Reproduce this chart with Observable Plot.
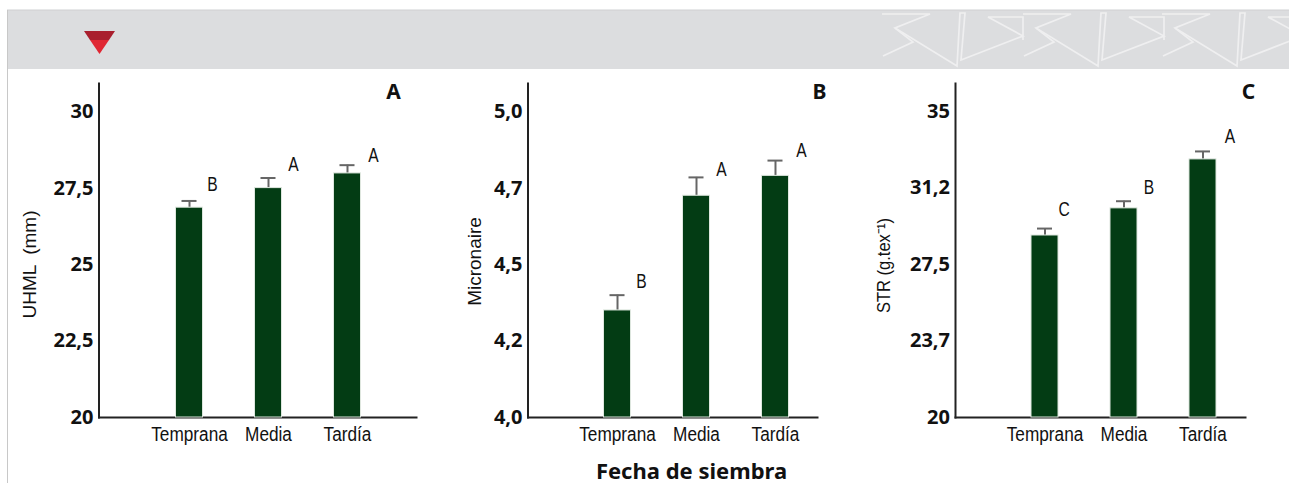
<!DOCTYPE html>
<html lang="es">
<head>
<meta charset="utf-8">
<script src="https://cdn.jsdelivr.net/npm/d3@7"></script>
<script src="https://cdn.jsdelivr.net/npm/@observablehq/plot@0.6"></script>
<style>
html,body{margin:0;padding:0;background:#fff;width:1289px;height:483px;overflow:hidden}
#page{position:relative;width:1289px;height:483px}
#page>*{position:absolute;top:0}
#band{left:0;top:0}
</style>
</head>
<body>
<div id="page">
<svg id="band" width="1289" height="483" viewBox="0 0 1289 483">
  <rect x="7" y="10" width="1282" height="59" fill="#dcdddf"/>
  <line x1="7" y1="10" x2="1289" y2="10" stroke="#cfd0d2"/>
  <line x1="7.5" y1="10" x2="7.5" y2="483" stroke="#c8c8c8"/>
  <polygon points="84,31 115,31 109,40 90,40" fill="#a91f2e"/>
  <polygon points="90,40 109,40 99.5,54" fill="#e02733"/>
  <defs>
    <g id="mot" fill="none" stroke="#efeff0" stroke-width="1.7">
      <polyline points="882,14 930,14 895,28 957,66 960,13 965,13 961,60 1023,36 988,17 1023,17 1023,40"/>
      <polyline points="895,28 913,42 883,56"/>
    </g>
  </defs>
  <use href="#mot"/><use href="#mot" x="141"/><use href="#mot" x="280"/><use href="#mot" x="421"/>
</svg>
</div>
<script>
const categories = ["Temprana", "Media", "Tardía"];

const uhmlValues = [26.86, 27.5, 27.98];
const uhmlErrors = [27.08, 27.83, 28.25];
const uhmlLetters = ["B", "A", "A"];
const uhmlLetterY = [27.61, 28.27, 28.56];
const uhmlTicks = [20, 22.5, 25, 27.5, 30];
const uhmlLabels = ["20", "22,5", "25", "27,5", "30"];

const micValues = [4.35, 4.725, 4.79];
const micErrors = [4.40, 4.785, 4.84];
const micLetters = ["B", "A", "A"];
const micLetterY = [4.444, 4.81, 4.873];
const micTicks = [4, 4.25, 4.5, 4.75, 5];
const micLabels = ["4,0", "4,2", "4,5", "4,7", "5,0"];

const strValues = [28.92, 30.25, 32.65];
const strErrors = [29.26, 30.6, 33.04];
const strLetters = ["C", "B", "A"];
const strLetterY = [30.2, 31.27, 33.77];
const strTicks = [20, 23.75, 27.5, 31.25, 35];
const strLabels = ["20", "23,7", "27,5", "31,2", "35"];

const narrow = "'Liberation Sans',sans-serif";
const boldFont = "'Noto Sans',sans-serif";
const W = 430, H = 483, TOP = 83, BASE = 417;

function panel(o) {
  const rows = categories.map((c, i) => ({c, v: o.values[i], e: o.errors[i], l: o.letters[i], ly: o.letterY[i], dx: o.letterDx[i]}));
  const marks = [
    Plot.axisY({ticks: o.ticks, tickSize: 0, tickPadding: 5.5, label: null, tickFormat: d => o.labels[o.ticks.indexOf(d)], fontSize: 20, fontWeight: 700, fontFamily: boldFont, fill: "#111"}),
    Plot.axisX({tickSize: 0, tickPadding: 9, label: null, fontSize: 20, fontFamily: narrow, fill: "#111"}),
    Plot.frame({anchor: "left", stroke: "#222", strokeWidth: 2}),
    Plot.frame({anchor: "bottom", stroke: "#222", strokeWidth: 2}),
    Plot.ruleX(rows, {x: "c", y1: "v", y2: "e", stroke: "#666", strokeWidth: 2}),
    Plot.tickY(rows, {x: "c", y: "e", stroke: "#666", strokeWidth: 2, insetLeft: 6, insetRight: 6}),
    Plot.barY(rows, {x: "c", y1: o.domain[0], y2: "v", fill: "#033c14", stroke: "#dfe7df", strokeWidth: 1}),
    ...rows.map(r => Plot.text([r], {x: "c", y: "ly", text: "l", dx: r.dx, fontSize: 20, fontFamily: narrow, fill: "#111"})),
    Plot.text([o.panel], {x: () => "Tardía", frameAnchor: "top", lineAnchor: "middle", dx: o.panelDx, dy: 9, fontSize: 21, fontWeight: 700, fontFamily: boldFont, fill: "#111"}),
    Plot.text([o.title], {frameAnchor: "left", rotate: -90, dx: o.titleDx, dy: o.titleDy, fontSize: 19, fontFamily: narrow, fill: "#111", textAnchor: "middle"})
  ];
  if (o.xTitle) marks.push(Plot.text([o.xTitle], {x: () => "Media", frameAnchor: "bottom", dx: -5, dy: 54, lineAnchor: "middle", fontSize: 22, fontWeight: 700, fontFamily: boldFont, fill: "#111"}));
  const chart = Plot.plot({
    width: W, height: H,
    marginTop: TOP, marginBottom: H - BASE, marginLeft: o.left, marginRight: W - o.right,
    style: {background: "transparent", overflow: "visible"},
    x: {type: "band", domain: categories, range: [o.r0, o.r0 + 185], paddingInner: 0.658, paddingOuter: 0, round: false, axis: null},
    y: {domain: o.domain, range: [BASE, TOP], axis: null},
    marks
  });
  chart.style.left = o.offset + "px";
  document.getElementById("page").appendChild(chart);
  // The reference's type is condensed: squeeze the regular sans to the same width.
  chart.querySelectorAll("text").forEach(t => {
    if (!getComputedStyle(t).fontFamily.includes("Liberation")) return;
    const s = t.textContent.trim();
    const k = s === o.title ? o.titleScale : s.length === 1 ? 0.78 : 0.86;
    if (k === 1) return;
    t.setAttribute("lengthAdjust", "spacingAndGlyphs");
    t.setAttribute("textLength", t.getComputedTextLength() * k);
  });
}

panel({offset: 0, left: 98.5, right: 416, r0: 175.5, domain: [20, 30.92], ticks: uhmlTicks, labels: uhmlLabels,
  values: uhmlValues, errors: uhmlErrors, letters: uhmlLetters, letterY: uhmlLetterY, letterDx: [23, 25, 26],
  panel: "A", panelDx: 46, title: "UHML  (mm)", titleDx: -69.5, titleDy: 14, titleScale: 1});
panel({offset: 430, left: 97.5, right: 387, r0: 173.5, domain: [4, 5.092], ticks: micTicks, labels: micLabels,
  values: micValues, errors: micErrors, letters: micLetters, letterY: micLetterY, letterDx: [24, 25, 26],
  panel: "B", panelDx: 44, title: "Micronaire", titleDx: -53.5, titleDy: 11, titleScale: 1, xTitle: "Fecha de siembra"});
panel({offset: 860, left: 95, right: 385, r0: 171, domain: [20, 36.37], ticks: strTicks, labels: strLabels,
  values: strValues, errors: strErrors, letters: strLetters, letterY: strLetterY, letterDx: [19, 25, 27],
  panel: "C", panelDx: 45.5, title: "STR (g.tex⁻¹)", titleDx: -72, titleDy: 15, titleScale: 0.87});
</script>
</body>
</html>
